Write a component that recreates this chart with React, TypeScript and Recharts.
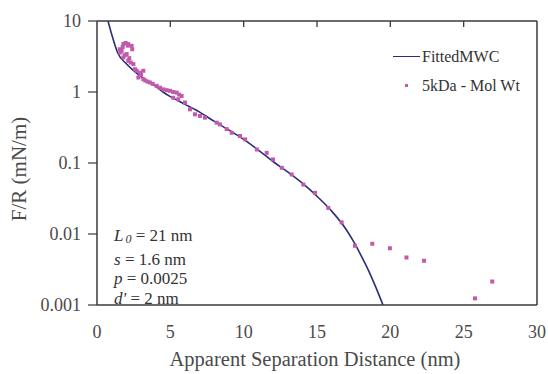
import { ComposedChart, Line, Scatter, XAxis, YAxis, ReferenceLine } from 'recharts';

// fitted MWC curve
const fitX = [0.75, 1.0, 1.4, 2.0, 2.5, 3.0, 3.5, 4.0, 4.5, 5.0, 5.5, 6.0, 7.0, 8.0, 9.0, 10.0, 11.0, 12.0, 13.0, 14.0, 15.0, 16.0, 17.0, 17.5, 18.0, 18.5, 19.0, 19.5];
const fitY = [10, 6.5, 3.6, 2.5, 2.0, 1.65, 1.4, 1.2, 1.0, 0.86, 0.76, 0.67, 0.52, 0.385, 0.29, 0.215, 0.152, 0.105, 0.075, 0.052, 0.034, 0.021, 0.0115, 0.0078, 0.005, 0.0031, 0.0018, 0.001];

// 5kDa measured points
const molX = [
  1.55, 1.6, 1.68, 1.75, 1.8, 1.8, 1.9, 1.95, 2.02, 2.1, 2.13, 2.13, 2.2, 2.3, 2.36, 2.4, 2.48, 2.59, 2.7, 2.82,
  2.93, 3.0, 3.16, 3.16, 3.3, 3.45, 3.61, 3.8, 4.07, 4.3, 4.52, 4.75, 4.98, 5.2, 5.43, 5.6, 5.77, 5.54, 5.2,
  6.0, 6.34, 6.68, 7.02, 7.36, 8.16, 8.38, 8.84, 9.18, 9.75, 10.1, 10.9, 11.57, 12.0, 12.6, 13.27, 14.07, 14.86,
  15.77, 16.68, 17.59, 18.77, 19.97, 21.1, 22.3, 25.77, 26.95,
];
const molY = [
  4.0, 3.6, 3.8, 4.3, 4.73, 3.07, 3.3, 4.9, 3.42, 4.5, 4.73, 2.75, 3.0, 2.6, 4.47, 4.0, 2.47, 2.09, 2.0, 1.6,
  1.88, 1.75, 1.99, 1.51, 1.45, 1.4, 1.36, 1.3, 1.22, 1.15, 1.09, 1.06, 1.04, 1.0, 0.98, 0.92, 0.88, 0.79, 0.83,
  0.71, 0.57, 0.485, 0.46, 0.435, 0.37, 0.35, 0.3, 0.267, 0.24, 0.215, 0.155, 0.139, 0.112, 0.0855, 0.069, 0.0497, 0.038,
  0.0233, 0.0146, 0.00683, 0.00728, 0.0063, 0.00467, 0.0042, 0.00124, 0.00214,
];

const xTicks = [0, 5, 10, 15, 20, 25, 30];
const yTicks = [0.001, 0.01, 0.1, 1, 10];

const fitName = 'FittedMWC';
const molName = '5kDa - Mol Wt';
const xTitle = 'Apparent Separation Distance (nm)';
const yTitle = 'F/R (mN/m)';

const LINE_COLOR = '#2b2d7c';
const DOT_COLOR = '#c25aac';
const AXIS_COLOR = '#3a3a3a';
const TEXT_COLOR = '#4a4a4a';
const FONT = '"Liberation Serif", "Times New Roman", serif';

// plot box geometry (chart margins + axis sizes)
const PLOT_LEFT = 97;
const PLOT_TOP = 21;
const PLOT_W = 440;
const X_MAX = 30;
const Y_MAX = 10;

const fitData = fitX.map((x, i) => ({ x, y: fitY[i] }));
const molData = molX.map((x, i) => ({ x, y: molY[i] }));

const SquareDot = (props: any) => {
  const { cx, cy } = props;
  if (cx == null || cy == null) return null;
  return <rect x={cx - 2} y={cy - 2} width={4} height={4} fill={DOT_COLOR} />;
};

const YTitle = (props: any) => {
  const vb = props.viewBox || { y: 21, height: 284 };
  const cx = 19;
  const cy = vb.y + vb.height / 2 + 6;
  return (
    <text
      x={cx}
      y={cy}
      transform={`rotate(-90 ${cx} ${cy})`}
      textAnchor="middle"
      dominantBaseline="central"
      fill={TEXT_COLOR}
      style={{ fontFamily: FONT, fontSize: 21 }}
    >
      {yTitle}
    </text>
  );
};

const XTitle = (props: any) => {
  const vb = props.viewBox || { x: 97, width: 440, y: 305 };
  return (
    <text
      x={vb.x + vb.width / 2 - 2}
      y={366}
      textAnchor="middle"
      fill={TEXT_COLOR}
      style={{ fontFamily: FONT, fontSize: 20.5 }}
    >
      {xTitle}
    </text>
  );
};

export default function App() {
  return (
    <div
      style={{ position: 'absolute', left: 0, top: 0, width: 548, height: 374, background: '#fff', fontFamily: FONT }}
    >
      <ComposedChart width={548} height={374} margin={{ top: PLOT_TOP, right: 11, bottom: 0, left: 0 }}>
        <XAxis
          dataKey="x"
          type="number"
          domain={[0, X_MAX]}
          ticks={xTicks}
          height={69}
          tickLine={false}
          tickSize={6}
          tickMargin={14}
          axisLine={{ stroke: AXIS_COLOR, strokeWidth: 1.5 }}
          tick={{ fill: TEXT_COLOR, fontSize: 18, style: { fontFamily: FONT } }}
          label={<XTitle />}
        />
        <YAxis
          dataKey="y"
          type="number"
          scale="log"
          domain={[0.001, Y_MAX]}
          allowDataOverflow
          ticks={yTicks}
          width={PLOT_LEFT}
          tickSize={9}
          tickMargin={7}
          tickLine={{ stroke: AXIS_COLOR, strokeWidth: 1.2 }}
          axisLine={{ stroke: AXIS_COLOR, strokeWidth: 1.5 }}
          tick={{ fill: TEXT_COLOR, fontSize: 18, style: { fontFamily: FONT } }}
          label={<YTitle />}
        />
        <ReferenceLine x={X_MAX} stroke={AXIS_COLOR} strokeWidth={1.5} />
        <ReferenceLine y={Y_MAX} stroke={AXIS_COLOR} strokeWidth={1.5} />
        <Line
          data={fitData}
          dataKey="y"
          name={fitName}
          stroke={LINE_COLOR}
          strokeWidth={1.6}
          dot={false}
          type="monotone"
          isAnimationActive={false}
        />
        <Scatter data={molData} dataKey="y" name={molName} shape={<SquareDot />} isAnimationActive={false} />
      </ComposedChart>
      {/* inward tick marks on the top frame */}
      <svg
        width={548}
        height={40}
        style={{ position: 'absolute', left: 0, top: 0, pointerEvents: 'none' }}
      >
        {xTicks.slice(1, -1).map((t) => {
          const x = PLOT_LEFT + (t / X_MAX) * PLOT_W;
          return <line key={t} x1={x} x2={x} y1={PLOT_TOP} y2={PLOT_TOP + 6} stroke={AXIS_COLOR} strokeWidth={1.3} />;
        })}
      </svg>
      <div
        style={{
          position: 'absolute',
          left: 393,
          top: 42,
          fontSize: 16,
          color: '#333',
          lineHeight: '29px',
        }}
      >
        <div style={{ display: 'flex', alignItems: 'center' }}>
          <span style={{ width: 27, height: 0, borderTop: `1.5px solid ${LINE_COLOR}`, marginRight: 2 }} />
          <span>{fitName}</span>
        </div>
        <div style={{ display: 'flex', alignItems: 'center' }}>
          <span style={{ width: 3, height: 3, background: DOT_COLOR, marginLeft: 12, marginRight: 14 }} />
          <span>{molName}</span>
        </div>
      </div>
      <div
        style={{
          position: 'absolute',
          left: 114,
          top: 226,
          fontSize: 17,
          lineHeight: '19.5px',
          color: '#333',
        }}
      >
        <div>
          <i>L</i>
          <i style={{ fontSize: 12, verticalAlign: -2, marginLeft: 2 }}>0</i> = 21 nm
        </div>
        <div>
          <i>s</i> = 1.6 nm
        </div>
        <div>
          <i>p</i> = 0.0025
        </div>
        <div>
          <i>d'</i> = 2 nm
        </div>
      </div>
    </div>
  );
}
